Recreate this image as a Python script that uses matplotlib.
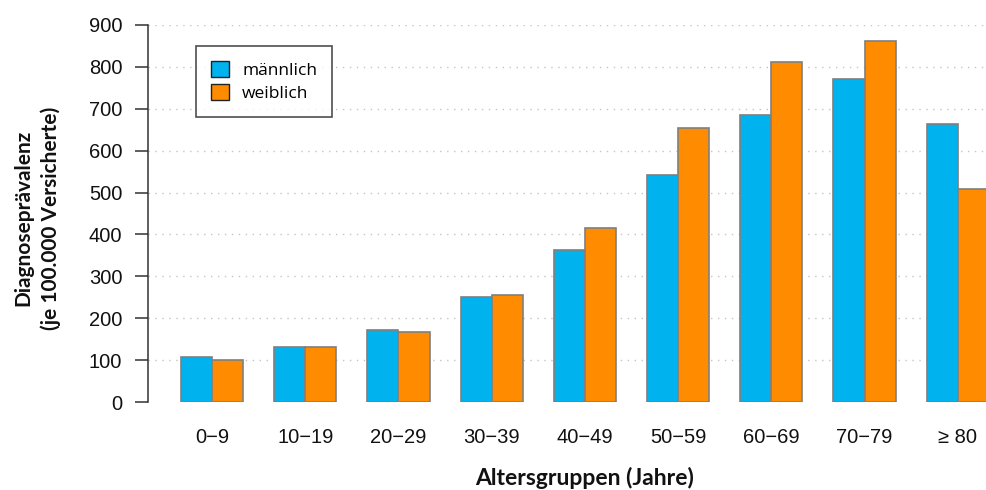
import matplotlib
matplotlib.use("Agg")
import matplotlib.pyplot as plt
from matplotlib.patches import Patch

age_groups = ["0\u22129", "10\u221219", "20\u221229", "30\u221239", "40\u221249",
              "50\u221259", "60\u221269", "70\u221279", "\u2265 80"]
male = [108, 132, 173, 251, 363, 542, 685, 771, 664]
female = [100, 131, 168, 256, 415, 653, 811, 862, 508]
y_ticks = [0, 100, 200, 300, 400, 500, 600, 700, 800, 900]

blue = "#00B2EE"
orange = "#FF8C00"
edge = "#7f7f7f"

fig = plt.figure(figsize=(9.87, 4.90), dpi=100)
ax = fig.add_axes([148 / 987, 88 / 490, 1 - 148 / 987, 377 / 490])

# R-style barplot layout: one empty bar-width before every pair
pos = [3 * i + 0.06 for i in range(len(age_groups))]
for y in y_ticks[1:]:
    ax.axhline(y, color="#c4c4c4", lw=1.0, ls=(0, (1, 4)), zorder=0)
ax.bar([p + 1 for p in pos], male, width=1, align="edge", color=blue,
       edgecolor=edge, linewidth=1.2, zorder=2)
ax.bar([p + 2 for p in pos], female, width=1, align="edge", color=orange,
       edgecolor=edge, linewidth=1.2, zorder=2)

ax.set_xlim(0, 27)
ax.set_ylim(0, 900)
ax.set_yticks(y_ticks)
ax.set_xticks([p + 2 for p in pos])
ax.set_xticklabels(age_groups)
ax.tick_params(axis="x", length=0, pad=19, labelsize=14.5,
               labelfontfamily="Liberation Sans", labelcolor="#111111")
ax.tick_params(axis="y", length=9.5, width=1.1, color="#333333", pad=9,
               labelsize=14.5, labelfontfamily="Liberation Sans", labelcolor="#111111")

for s in ["top", "right", "bottom"]:
    ax.spines[s].set_visible(False)
ax.spines["left"].set_color("#333333")
ax.spines["left"].set_linewidth(1.1)
ax.spines["left"].set_bounds(0, 900)

handles = [Patch(facecolor=blue, edgecolor="#222222", label="m\u00e4nnlich"),
           Patch(facecolor=orange, edgecolor="#222222", label="weiblich")]
leg = ax.legend(handles=handles, loc="upper left", bbox_to_anchor=(48 / 839, 1 - 21 / 377),
                frameon=True, fancybox=False, prop={"family": "Open Sans", "size": 12.5},
                handlelength=1.05, handleheight=1.05, handletextpad=0.75,
                borderpad=0.85, labelspacing=0.3, borderaxespad=0)
leg.get_frame().set_edgecolor("#222222")
leg.get_frame().set_linewidth(1.2)

fig.text(585 / 987, 1 - 478 / 490, "Altersgruppen (Jahre)", ha="center", va="center",
         fontsize=16.5, fontweight="bold", family="Lato", color="#111111")
fig.text(37 / 987, 1 - 218 / 490, "Diagnoseprävalenz\n(je 100.000 Versicherte)",
         ha="center", va="center", rotation=90, multialignment="center",
         fontsize=15, fontweight="bold", family="Lato", color="#111111",
         linespacing=1.45)

fig.savefig("out.png", dpi=100)
